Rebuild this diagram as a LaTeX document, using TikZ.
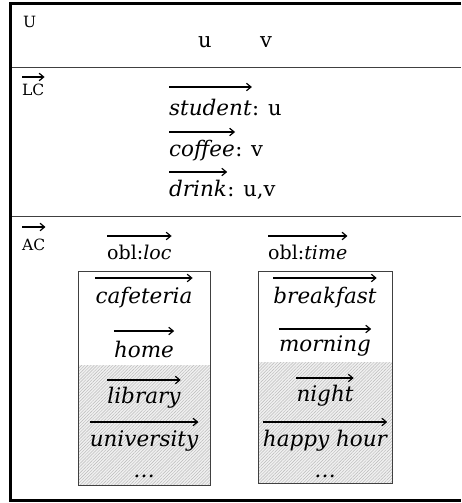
\documentclass[tikz,border=0pt]{standalone}
\usepackage{fontspec}
\setmainfont{DejaVu Serif}
\usetikzlibrary{arrows.meta,patterns.meta}
\begin{document}
\begin{tikzpicture}[x=1pt,y=-1pt,
  lab/.style={font=\fontsize{15.5}{15.5}\selectfont, anchor=base west, inner sep=0pt},
  big/.style={font=\fontsize{21}{21}\selectfont, anchor=base west, inner sep=0pt},
  lcw/.style={font=\fontsize{21.5}{21.5}\selectfont\itshape, anchor=base west, inner sep=0pt},
  word/.style={font=\fontsize{21.5}{21.5}\selectfont\itshape, anchor=base, inner sep=0pt},
  obl/.style={font=\fontsize{19}{19}\selectfont, anchor=base west, inner sep=0pt},
  vec/.style={line width=1.2pt, -{Straight Barb[length=4.5pt,width=7.5pt]}},
  frameline/.style={line width=3pt},
  divider/.style={line width=1pt, draw=black!75},
  listbox/.style={line width=0.8pt, draw=black!75},
  hatch/.style={fill=gray!12, postaction={pattern={Lines[angle=45,distance=2.2pt,line width=0.45pt]}, pattern color=gray!55}}
]
\useasboundingbox (0,0) rectangle (461,503);
% outer frame (open on the right)
\draw[frameline] (461,3.5) -- (10.5,3.5) -- (10.5,500) -- (461,500);
\draw[divider] (12,68) -- (461,68);
\draw[divider] (12,216) -- (461,216);

% U section
\node[lab] (U) at (23,28) {U};
\node[big] (u) at (198,48) {u};
\node[big] (v) at (260,48) {v};

% LC section
\node[lab] (LC) at (22,95) {LC};
\draw[vec] (LC.west |- 0,77) -- (LC.east |- 0,77);
\node[lcw] (st) at (169,115) {student};
\node[big] (stv) at (st.base east) {: u};
\draw[vec] (st.west |- 0,87) -- (st.east |- 0,87);
\node[lcw] (co) at (169,156) {coffee};
\node[big] (cov) at (co.base east) {: v};
\draw[vec] (co.west |- 0,132) -- (co.east |- 0,132);
\node[lcw] (dr) at (169,196) {drink};
\node[big] (drv) at (dr.base east) {: u,v};
\draw[vec] (dr.west |- 0,172) -- (dr.east |- 0,172);

% AC section
\node[lab] (AC) at (22,250) {AC};
\draw[vec] (AC.west |- 0,227) -- (AC.east |- 0,227);
\node[obl] (ol) at (107,259) {obl:\textit{loc}};
\draw[vec] (ol.west |- 0,236) -- (ol.east |- 0,236);
\node[obl] (ot) at (268,259) {obl:\textit{time}};
\draw[vec] (ot.west |- 0,236) -- (ot.east |- 0,236);

% left box
\path[hatch] (78.5,365) rectangle (210,485.5);
\draw[listbox] (78.5,271) rectangle (210,485.5);
% right box
\path[hatch] (258,362) rectangle (392.5,483.5);
\draw[listbox] (258,271) rectangle (392.5,483.5);

\node[word] (caf) at (144,303) {cafeteria};
\draw[vec] (caf.west |- 0,278) -- (caf.east |- 0,278);
\node[word] (hom) at (144,357) {home};
\draw[vec] (hom.west |- 0,331) -- (hom.east |- 0,331);
\node[word] (lib) at (144,403) {library};
\draw[vec] (lib.west |- 0,380) -- (lib.east |- 0,380);
\node[word] (uni) at (144,446) {university};
\draw[vec] (uni.west |- 0,422) -- (uni.east |- 0,422);
\node[word] (d1) at (144,477) {\ldots};

\node[word] (brk) at (325,303) {breakfast};
\draw[vec] (brk.west |- 0,278) -- (brk.east |- 0,278);
\node[word] (mor) at (325,351) {morning};
\draw[vec] (mor.west |- 0,329) -- (mor.east |- 0,329);
\node[word] (nig) at (325,401) {night};
\draw[vec] (nig.west |- 0,378) -- (nig.east |- 0,378);
\node[word] (hap) at (325,446) {happy hour};
\draw[vec] (hap.west |- 0,422) -- (hap.east |- 0,422);
\node[word] (d2) at (325,477) {\ldots};
\end{tikzpicture}
\end{document}
